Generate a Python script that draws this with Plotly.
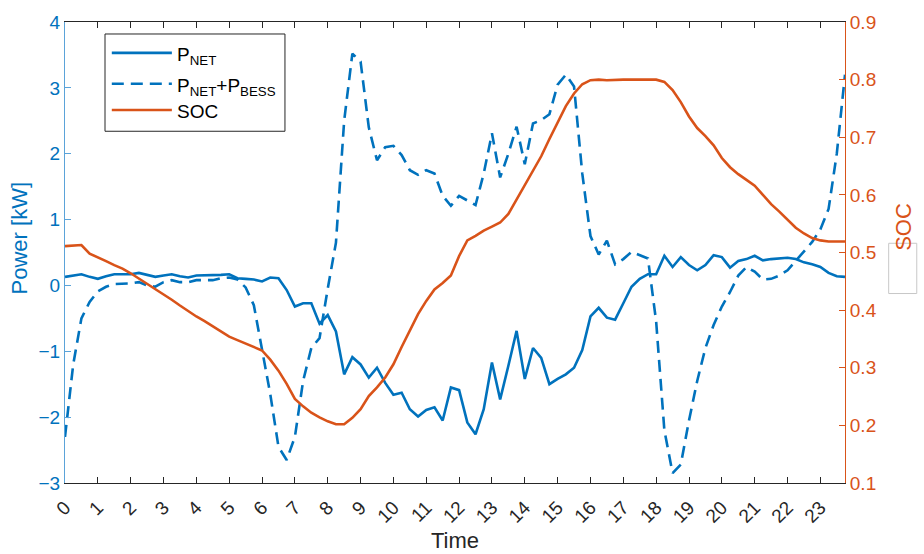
import plotly.graph_objects as go

# ---- data (15-minute resolution, 96 samples) ----
time_h = [i * 0.25 for i in range(96)]

p_net = [
    0.13, 0.15, 0.17, 0.13, 0.10, 0.14, 0.17, 0.17,
    0.17, 0.19, 0.16, 0.13, 0.15, 0.17, 0.14, 0.12,
    0.15, 0.15, 0.15, 0.16, 0.17, 0.11, 0.10, 0.09,
    0.06, 0.12, 0.11, -0.07, -0.32, -0.27, -0.27, -0.58,
    -0.45, -0.70, -1.35, -1.09, -1.20, -1.40, -1.25, -1.48,
    -1.66, -1.63, -1.88, -1.99, -1.89, -1.85, -2.05, -1.55,
    -1.59, -2.08, -2.26, -1.88, -1.17, -1.73, -1.22, -0.69,
    -1.42, -0.95, -1.10, -1.50, -1.42, -1.35, -1.25, -0.98,
    -0.47, -0.34, -0.49, -0.52, -0.27, -0.02, 0.10, 0.17,
    0.17, 0.45, 0.28, 0.43, 0.31, 0.23, 0.31, 0.46,
    0.43, 0.27, 0.37, 0.40, 0.45, 0.38, 0.40, 0.41,
    0.42, 0.40, 0.35, 0.32, 0.28, 0.19, 0.14, 0.13,
]

p_net_bess = [
    -2.30, -1.20, -0.50, -0.25, -0.09, -0.02, 0.02, 0.02,
    0.03, 0.05, 0.00, -0.02, 0.05, 0.08, 0.05, 0.05,
    0.08, 0.08, 0.08, 0.11, 0.12, 0.09, -0.03, -0.30,
    -1.00, -1.65, -2.45, -2.65, -2.30, -1.45, -0.95, -0.80,
    -0.05, 0.65, 2.50, 3.52, 3.40, 2.40, 1.90, 2.10,
    2.12, 1.98, 1.75, 1.68, 1.75, 1.70, 1.36, 1.21,
    1.36, 1.29, 1.22, 1.70, 2.31, 1.64, 2.00, 2.41,
    1.84, 2.46, 2.51, 2.60, 3.05, 3.20, 3.02, 1.70,
    0.75, 0.47, 0.68, 0.32, 0.40, 0.51, 0.46, 0.41,
    -0.55, -2.20, -2.85, -2.72, -2.05, -1.45, -0.95, -0.60,
    -0.32, -0.10, 0.15, 0.28, 0.21, 0.09, 0.10, 0.15,
    0.23, 0.37, 0.51, 0.66, 0.85, 1.16, 2.00, 3.20,
]

soc = [
    0.511, 0.512, 0.513, 0.498, 0.492, 0.485, 0.478, 0.472,
    0.464, 0.455, 0.446, 0.437, 0.428, 0.418, 0.408, 0.398,
    0.389, 0.381, 0.372, 0.362, 0.354, 0.348, 0.342, 0.337,
    0.330, 0.314, 0.295, 0.272, 0.246, 0.233, 0.222, 0.214,
    0.207, 0.202, 0.202, 0.213, 0.228, 0.251, 0.266, 0.283,
    0.306, 0.336, 0.366, 0.393, 0.416, 0.436, 0.447, 0.460,
    0.494, 0.521, 0.529, 0.538, 0.545, 0.552, 0.567, 0.592,
    0.615, 0.640, 0.667, 0.697, 0.727, 0.754, 0.776, 0.792,
    0.799, 0.800, 0.799, 0.800, 0.800, 0.800, 0.800, 0.800,
    0.800, 0.796, 0.782, 0.761, 0.736, 0.716, 0.702, 0.686,
    0.664, 0.648, 0.636, 0.626, 0.616, 0.600, 0.584, 0.571,
    0.557, 0.543, 0.533, 0.525, 0.521, 0.519, 0.519, 0.519,
]

hour_ticks = list(range(24))
hour_labels = [str(h) for h in hour_ticks]
power_ticks = [-3, -2, -1, 0, 1, 2, 3, 4]
soc_ticks = [0.1, 0.2, 0.3, 0.4, 0.5, 0.6, 0.7, 0.8, 0.9]
series_names = ["P<sub>NET</sub>", "P<sub>NET</sub>+P<sub>BESS</sub>", "SOC"]

BLUE = "#0072BD"
ORANGE = "#D95319"
FONT = "Liberation Sans, Arial, sans-serif"
DASH = "12px,7px"
LW = 2.6

fig = go.Figure()
fig.add_trace(go.Scatter(x=time_h, y=p_net, mode="lines", name=series_names[0],
                         line=dict(color=BLUE, width=LW), yaxis="y"))
fig.add_trace(go.Scatter(x=time_h, y=p_net_bess, mode="lines", name=series_names[1],
                         line=dict(color=BLUE, width=LW, dash=DASH), yaxis="y"))
fig.add_trace(go.Scatter(x=time_h, y=soc, mode="lines", name=series_names[2],
                         line=dict(color=ORANGE, width=LW), yaxis="y2"))

# ---- legend box drawn in paper coordinates (MATLAB-style long samples) ----
leg_rows_y = [0.933, 0.866, 0.809]
leg_text_y = [0.927, 0.858, 0.806]
leg_styles = [dict(color=BLUE, width=LW), dict(color=BLUE, width=LW, dash=DASH),
              dict(color=ORANGE, width=LW)]
shapes = [
    dict(type="rect", xref="paper", yref="paper", x0=0.0513, x1=0.282,
         y0=0.763, y1=0.974, line=dict(color="#262626", width=1), fillcolor="white",
         layer="above"),
    dict(type="rect", xref="paper", yref="paper", x0=1.056, x1=1.092,
         y0=0.411, y1=0.520, line=dict(color="#C8C8C8", width=1),
         fillcolor="rgba(0,0,0,0)"),
]
annotations = []
for ry, ty, st, nm in zip(leg_rows_y, leg_text_y, leg_styles, series_names):
    shapes.append(dict(type="line", xref="paper", yref="paper", x0=0.060, x1=0.137,
                       y0=ry, y1=ry, line=st, layer="above"))
    annotations.append(dict(text=nm, x=0.141, y=ty, xref="paper", yref="paper",
                            showarrow=False, xanchor="left", yanchor="middle",
                            font=dict(size=19, color="#000000")))

annotations += [
    dict(text="Power [kW]", x=-0.058, y=0.53, xref="paper", yref="paper",
         textangle=-90, showarrow=False, xanchor="center", yanchor="middle",
         font=dict(size=22, color=BLUE)),
    dict(text="SOC", x=1.074, y=0.555, xref="paper", yref="paper",
         textangle=-90, showarrow=False, xanchor="center", yanchor="middle",
         font=dict(size=22, color=ORANGE)),
    dict(text="Time", x=0.5, y=-0.125, xref="paper", yref="paper",
         showarrow=False, xanchor="center", yanchor="middle",
         font=dict(size=22, color="#262626")),
]

fig.update_layout(
    width=924, height=554,
    margin=dict(l=65, r=79, t=18, b=71),
    paper_bgcolor="white", plot_bgcolor="white",
    font=dict(family=FONT, size=19, color="#262626"),
    showlegend=False,
    xaxis=dict(range=[0, 23.75], tickvals=hour_ticks, ticktext=hour_labels,
               tickangle=-45, ticks="inside", ticklen=6, tickcolor="#262626",
               ticklabelstandoff=5,
               showline=True, linecolor="#262626", linewidth=1, mirror="ticks",
               showgrid=False, zeroline=False,
               tickfont=dict(size=19, color="#262626")),
    yaxis=dict(range=[-3, 4], tickvals=power_ticks, ticks="inside", ticklen=6,
               tickcolor="#5BA3D9", showline=True, linecolor="#5BA3D9", linewidth=1,
               showgrid=False, zeroline=False,
               tickfont=dict(size=19, color=BLUE)),
    yaxis2=dict(range=[0.1, 0.9], tickvals=soc_ticks,
                ticktext=[f"{v:.1f}" for v in soc_ticks],
                overlaying="y", side="right", anchor="x",
                ticks="inside", ticklen=6, tickcolor=ORANGE,
                showline=True, linecolor=ORANGE, linewidth=1,
                showgrid=False, zeroline=False,
                tickfont=dict(size=19, color=ORANGE)),
    annotations=annotations,
    shapes=shapes,
)

fig.write_html("out.html")
